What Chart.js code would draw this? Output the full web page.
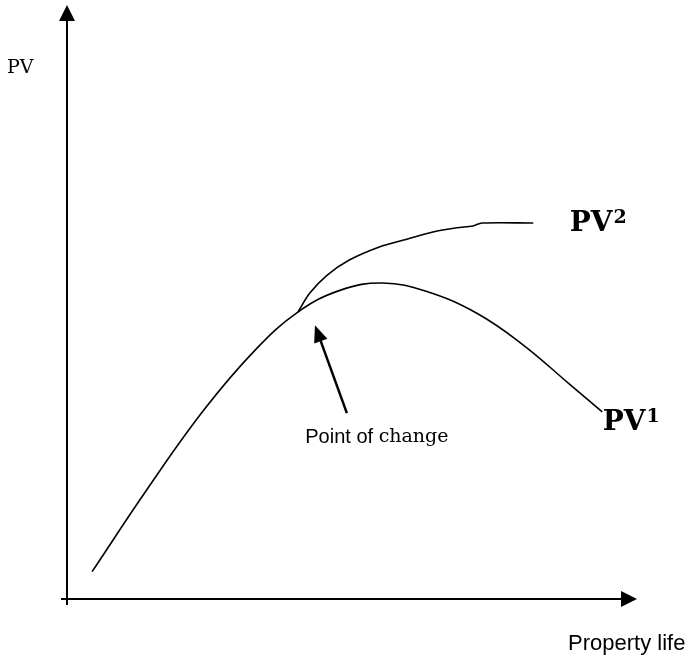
<!DOCTYPE html>
<html>
<head>
<meta charset="utf-8">
<script src="https://cdn.jsdelivr.net/npm/chart.js@4"></script>
<style>
  html, body { margin: 0; padding: 0; background: #fff; }
  #wrap { width: 696px; height: 657px; }
</style>
</head>
<body>
<div id="wrap"><canvas id="pvChart"></canvas></div>
<script>
// property life (x) against present value (y), arbitrary units 0-100
var pv1Life  = [4.4, 14.0, 24.0, 33.0, 40.5, 48.0, 55.4, 63.0, 71.9, 80.0, 88.0, 93.9];
var pv1Value = [4.6, 18.4, 31.8, 41.9, 48.3, 52.0, 53.2, 51.8, 48.1, 42.8, 36.3, 31.5];

var pv2Life  = [40.5, 42.6, 45.6, 49.6, 54.9, 58.9, 64.2, 68.4, 71.2, 72.8, 81.8];
var pv2Value = [48.3, 51.5, 54.5, 57.1, 59.3, 60.4, 61.8, 62.5, 62.8, 63.3, 63.3];

var axisLabels = ['PV', 'Property life'];
var changeLabel = ['Point of ', 'change'];

function toPoints(xs, ys) {
  return xs.map(function (x, i) { return { x: x, y: ys[i] }; });
}

function arrowHead(ctx, x1, y1, x2, y2, len, half) {
  var a = Math.atan2(y2 - y1, x2 - x1);
  ctx.beginPath();
  ctx.moveTo(x2, y2);
  ctx.lineTo(x2 - len * Math.cos(a) + half * Math.sin(a), y2 - len * Math.sin(a) - half * Math.cos(a));
  ctx.lineTo(x2 - len * Math.cos(a) - half * Math.sin(a), y2 - len * Math.sin(a) + half * Math.cos(a));
  ctx.closePath();
  ctx.fill();
}

var sketchAxes = {
  id: 'sketchAxes',
  afterDatasetsDraw: function (chart) {
    var ctx = chart.ctx;
    var a = chart.chartArea;
    var xs = chart.scales.x, ys = chart.scales.y;
    ctx.save();
    ctx.strokeStyle = '#000';
    ctx.fillStyle = '#000';
    ctx.lineWidth = 2;

    // y axis with arrow
    ctx.beginPath();
    ctx.moveTo(a.left, a.bottom + 6);
    ctx.lineTo(a.left, a.top + 12);
    ctx.stroke();
    arrowHead(ctx, a.left, a.bottom, a.left, a.top, 16, 8);

    // x axis with arrow
    ctx.beginPath();
    ctx.moveTo(a.left - 6, a.bottom);
    ctx.lineTo(a.right - 12, a.bottom);
    ctx.stroke();
    arrowHead(ctx, a.left, a.bottom, a.right, a.bottom, 16, 8);

    // point of change arrow
    var tx = xs.getPixelForValue(49.1), ty = ys.getPixelForValue(31.3);
    var hx = xs.getPixelForValue(43.5), hy = ys.getPixelForValue(46.1);
    ctx.lineWidth = 2.5;
    ctx.beginPath();
    ctx.moveTo(tx, ty);
    ctx.lineTo(hx + (tx - hx) * 0.15, hy + (ty - hy) * 0.15);
    ctx.stroke();
    arrowHead(ctx, tx, ty, hx, hy, 17, 7);

    ctx.textBaseline = 'middle';
    ctx.textAlign = 'left';

    // axis labels
    ctx.font = '19px "DejaVu Serif", serif';
    ctx.fillText(axisLabels[0], 7, 68);
    ctx.font = '22px "Liberation Sans", Arial, sans-serif';
    ctx.fillText(axisLabels[1], 568, 644);

    // point of change text
    var px = xs.getPixelForValue(41.8), py = ys.getPixelForValue(27.2);
    ctx.font = '20px "Liberation Sans", Arial, sans-serif';
    ctx.fillText(changeLabel[0], px, py);
    var w = ctx.measureText(changeLabel[0]).width;
    ctx.font = '19px "DejaVu Serif", serif';
    ctx.fillText(changeLabel[1], px + w, py);

    // curve labels
    function pvLabel(sub, lx, ly) {
      var x = xs.getPixelForValue(lx), y = ys.getPixelForValue(ly);
      ctx.font = 'bold 28px "DejaVu Serif", serif';
      ctx.fillText('PV', x, y);
      var wv = ctx.measureText('PV').width;
      ctx.font = 'bold 19px "DejaVu Serif", serif';
      ctx.fillText(sub, x + wv + 1, y - 6);
    }
    pvLabel('2', 88.2, 63.1);
    pvLabel('1', 94.0, 29.6);

    ctx.restore();
  }
};

new Chart(document.getElementById('pvChart'), {
  type: 'line',
  data: {
    datasets: [{
      label: 'PV1',
      data: toPoints(pv1Life, pv1Value),
      borderColor: '#000',
      borderWidth: 1.6,
      pointRadius: 0,
      tension: 0.4,
      fill: false
    }, {
      label: 'PV2',
      data: toPoints(pv2Life, pv2Value),
      borderColor: '#000',
      borderWidth: 1.6,
      pointRadius: 0,
      tension: 0.3,
      fill: false
    }]
  },
  options: {
    responsive: true,
    maintainAspectRatio: false,
    animation: false,
    layout: { padding: { left: 67, right: 59, top: 5, bottom: 58 } },
    plugins: {
      legend: { display: false },
      tooltip: { enabled: false }
    },
    scales: {
      x: { type: 'linear', min: 0, max: 100, display: false },
      y: { type: 'linear', min: 0, max: 100, display: false }
    }
  },
  plugins: [sketchAxes]
});
</script>
</body>
</html>
